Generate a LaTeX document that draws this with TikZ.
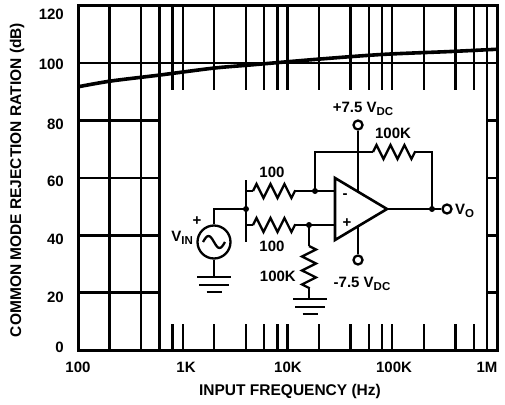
\documentclass[tikz,border=0pt]{standalone}
\usepackage{fontspec}
\setmainfont{Liberation Sans}
\usepackage{tikz}
\usetikzlibrary{decorations.pathmorphing}

\newcommand{\lowsub}[1]{\raisebox{-0.35ex}{\fontsize{11.5}{11.5}\selectfont #1}}

\tikzset{
    wire/.style={line width=2.3pt},
    gridline/.style={line width=2.4pt},
    res/.style={line width=2.3pt, decorate, decoration={zigzag, segment length=#1, amplitude=7pt}},
    dot/.style={circle, fill, inner sep=0pt, minimum size=6pt},
    term/.style={circle, draw, line width=2.3pt, fill=white, inner sep=0pt, minimum size=9pt},
    lbl/.style={font=\fontsize{15}{16}\selectfont\bfseries, inner sep=0pt},
    axtitle/.style={font=\fontsize{15.5}{17}\selectfont\bfseries, inner sep=0pt},
    ground/.pic={\draw[wire] (-17,0) -- (17,0) (-15,8) -- (15,8) (-7.5,15) -- (7.5,15);}
}

\begin{document}
\begin{tikzpicture}[x=1pt, y=-1pt]
        \useasboundingbox (0,0) rectangle (505,404);

        % chart, x in decades from 100 Hz, y in dB
        \begin{scope}[shift={(78,350)}, x=104.75pt, y=2.867pt]
        \foreach \m in {2,4,6}
            \draw[gridline] ({log10(\m)},0) -- ({log10(\m)},120);
        \draw[gridline] ({3+log10(8)},0) -- ({3+log10(8)},120);
        \foreach \t in {0.903,1,1.301,1.602,1.778,1.903,2,2.301,2.602,2.778,2.903,3,3.301,3.602,3.778} {
            \draw[gridline] (\t,0) -- (\t,9.1);
            \draw[gridline] (\t,120) -- (\t,90.7);
        }
        \draw[gridline] (0,100) -- (4,100);
        \foreach \v in {20,40,60,80} {
            \draw[gridline] (0,\v) -- ({log10(6)},\v);
            \draw[gridline] ({3+log10(8)},\v) -- (4,\v);
        }
        \draw[line width=3pt] (0,0) rectangle (4,120);
        \draw[line width=3.6pt] plot[smooth] coordinates {(0,91.8) (0.31,93.8) (0.78,95.9) (1.29,98.3) (1.64,99.4) (2.28,101.4) (2.91,103.1) (3.55,104.1) (4,104.9)};
        \end{scope}

        \node[lbl, anchor=east] (y120) at (64,14) {120};
        \node[lbl, anchor=east] (y100) at (64,64) {100};
        \node[lbl, anchor=east] (y80) at (64,124) {80};
        \node[lbl, anchor=east] (y60) at (64,181) {60};
        \node[lbl, anchor=east] (y40) at (64,239) {40};
        \node[lbl, anchor=east] (y20) at (64,297) {20};
        \node[lbl, anchor=east] (y0) at (64,347) {0};

        \node[lbl] (x100) at (78,367) {100};
        \node[lbl] (x1k) at (186,367) {1K};
        \node[lbl] (x10k) at (288,367) {10K};
        \node[lbl] (x100k) at (394,367) {100K};
        \node[lbl] (x1m) at (487,367) {1M};

        \node[axtitle, rotate=90] (ytitle) at (17,180) {COMMON MODE REJECTION RATION (dB)};
        \node[axtitle] (xtitle) at (290,391) {INPUT FREQUENCY (Hz)};

        % test circuit
        \coordinate (oa1) at (335,178);
        \coordinate (oa2) at (335,240);
        \coordinate (oout) at (387,209);
        \coordinate (inm) at (335,191);
        \coordinate (inp) at (335,225);
        \coordinate (sp) at (358,191.7);
        \coordinate (sm) at (358,226.3);
        \draw[line width=2.6pt, line join=miter] (oa1) -- (oout) -- (oa2) -- cycle;
        \node[lbl] (minus) at (345,196) {-};
        \node[lbl] (plus) at (347,223) {+};

        \node[term] (vpp) at (358,125) {};
        \node[term] (vmm) at (358,260) {};
        \draw[wire] (vpp) -- (sp);
        \draw[wire] (sm) -- (vmm);
        \node[lbl] (vpplbl) at (363,109) {+7.5 V\lowsub{DC}};
        \node[lbl] (vmmlbl) at (362,284) {-7.5 V\lowsub{DC}};

        \coordinate (bart) at (246,180);
        \coordinate (barb) at (246,242);
        \coordinate (jin) at (246,209);
        \coordinate (r1a) at (253,191);
        \coordinate (r1b) at (295,191);
        \coordinate (jm) at (315,191);
        \coordinate (r2a) at (253,225);
        \coordinate (r2b) at (295,225);
        \coordinate (jp) at (309,225);
        \draw[wire] (bart) -- (barb);
        \draw[wire] (246,191) -- (r1a);
        \draw[res=13.98pt] (r1a) -- (r1b);
        \draw[wire] (r1b) -- (jm) -- (inm);
        \draw[wire] (246,225) -- (r2a);
        \draw[res=13.98pt] (r2a) -- (r2b);
        \draw[wire] (r2b) -- (jp) -- (inp);
        \node[lbl] (r1lbl) at (272,172) {100};
        \node[lbl] (r2lbl) at (272,246) {100};

        \coordinate (fb1) at (315,152);
        \coordinate (r3a) at (373,152);
        \coordinate (r3b) at (415,152);
        \coordinate (fb2) at (432,152);
        \coordinate (jo) at (432,209);
        \draw[wire] (jm) -- (fb1) -- (r3a);
        \draw[res=13.98pt] (r3a) -- (r3b);
        \draw[wire] (r3b) -- (fb2) -- (jo);
        \node[lbl] (r3lbl) at (393,133) {100K};
        \node[term] (vo) at (447,209) {};
        \draw[wire] (oout) -- (jo) -- (vo);
        \node[lbl, anchor=west] (volbl) at (455,211) {V\lowsub{O}};

        \coordinate (r4a) at (309,246);
        \coordinate (r4b) at (309,288);
        \coordinate (gnd2) at (309,299);
        \draw[wire] (jp) -- (r4a);
        \draw[res=13.98pt] (r4a) -- (r4b);
        \draw[wire] (r4b) -- (gnd2);
        \pic at (310,299) {ground};
        \node[lbl, anchor=east] (r4lbl) at (296,276) {100K};

        \node[circle, draw, line width=2.3pt, minimum size=33pt, inner sep=0pt] (src) at (214,242) {};
        \coordinate (sw) at (214,209);
        \coordinate (gnd1) at (214,277);
        \draw[wire] (jin) -- (sw) -- (src);
        \draw[wire] (src) -- (gnd1);
        \draw[wire] ([xshift=-11pt]src.center) sin ++(5.5,-6) cos ++(5.5,6) sin ++(5.5,6) cos ++(5.5,-6);
        \pic at (gnd1) {ground};
        \node[lbl, anchor=east] (vinlbl) at (193,238) {V\lowsub{IN}};
        \node[lbl] (srcplus) at (197,221) {+};

        \node[dot] (djin) at (jin) {};
        \node[dot] (djm) at (jm) {};
        \node[dot] (djp) at (jp) {};
        \node[dot] (djo) at (jo) {};
\end{tikzpicture}
\end{document}
